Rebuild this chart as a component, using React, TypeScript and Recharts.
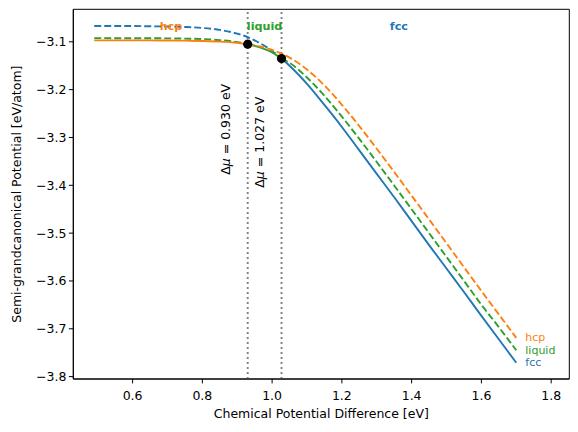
import React from 'react';
import { ComposedChart, Line, XAxis, YAxis, ReferenceLine, ReferenceDot, ReferenceArea } from 'recharts';

const FONT = '"DejaVu Sans", sans-serif';
const BLUE = '#1f77b4';
const ORANGE = '#ff7f0e';
const GREEN = '#2ca02c';

// chemical potential difference [eV]
const muValues = [
  0.49, 0.55, 0.6, 0.65, 0.7, 0.75, 0.8, 0.85, 0.9, 0.93, 0.95, 1.0, 1.027, 1.05,
  1.1, 1.15, 1.2, 1.25, 1.3, 1.35, 1.4, 1.45, 1.5, 1.55, 1.6, 1.65, 1.7,
];
// semi-grandcanonical potential [eV/atom]
const fccValues = [
  -3.067, -3.067, -3.067, -3.0675, -3.068, -3.069, -3.071, -3.075, -3.083, -3.09, -3.097, -3.119, -3.135, -3.15,
  -3.188, -3.232, -3.278, -3.327, -3.376, -3.425, -3.475, -3.525, -3.574, -3.623, -3.673, -3.722, -3.771,
];
const hcpValues = [
  -3.097, -3.097, -3.097, -3.097, -3.0973, -3.0976, -3.0983, -3.0996, -3.1022, -3.105, -3.1073, -3.1168, -3.1246, -3.133,
  -3.1579, -3.1913, -3.2316, -3.2763, -3.3236, -3.3722, -3.4217, -3.4713, -3.5211, -3.5711, -3.621, -3.67, -3.719,
];
const liquidValues = [
  -3.0923, -3.0924, -3.0924, -3.0925, -3.0928, -3.0933, -3.0943, -3.0964, -3.1006, -3.105, -3.1084, -3.1221, -3.135, -3.1439,
  -3.1746, -3.2129, -3.2564, -3.303, -3.3513, -3.4005, -3.4501, -3.4999, -3.5498, -3.5997, -3.6497, -3.6965, -3.745,
];

const transitionMu = [0.93, 1.027];
const transitionPhi = [-3.105, -3.135];
const transitionText = ['0.930', '1.027'];
const transitionLabelPhi = [-3.378, -3.405];

const phaseNames = ['hcp', 'liquid', 'fcc'];
const phaseColors = [ORANGE, GREEN, BLUE];
const phaseLabelMu = [0.71, 0.9785, 1.3635];
const phaseLabelPhi = -3.069;

const xTicks = [0.6, 0.8, 1.0, 1.2, 1.4, 1.6, 1.8];
const yTicks = [-3.8, -3.7, -3.6, -3.5, -3.4, -3.3, -3.2, -3.1];
const xDomain = [0.43, 1.852];
const yDomain = [-3.805, -3.032];

const [tLow, tHigh] = transitionMu;
const rows = muValues.map((mu, i) => ({
  mu,
  fccDash: mu <= tHigh ? fccValues[i] : null,
  fccSolid: mu >= tHigh ? fccValues[i] : null,
  hcpSolid: mu <= tLow ? hcpValues[i] : null,
  hcpDash: mu >= tLow ? hcpValues[i] : null,
  liqDashLow: mu <= tLow ? liquidValues[i] : null,
  liqSolid: mu >= tLow && mu <= tHigh ? liquidValues[i] : null,
  liqDashHigh: mu >= tHigh ? liquidValues[i] : null,
}));

const last = muValues.length - 1;
const endLabels = [
  { name: 'hcp', color: ORANGE, phi: hcpValues[last] },
  { name: 'liquid', color: GREEN, phi: liquidValues[last] },
  { name: 'fcc', color: BLUE, phi: fccValues[last] },
];

const minus = (v: number) => v.toFixed(1).replace('-', '\u2212');

export default function App() {
  const lw = 1.9;
  const dash = '7 3';
  return (
    <div style={{ width: 578, height: 432 }}>
      <style>{'body{margin:0}'}</style>
      <ComposedChart width={578} height={432} data={rows} margin={{ top: 9.3, right: 8.7, bottom: 0, left: 0 }}>
        <XAxis
          dataKey="mu"
          type="number"
          domain={xDomain}
          ticks={xTicks}
          allowDataOverflow
          tickFormatter={(v: number) => v.toFixed(1)}
          tick={{ fill: '#000', fontSize: 12.5, fontFamily: FONT }}
          tickLine={{ stroke: '#000' }}
          axisLine={{ stroke: '#000' }}
          tickSize={4.4}
          tickMargin={7.5}
          height={53}
          label={{ value: 'Chemical Potential Difference [eV]', position: 'insideBottom', offset: 14, fill: '#000', fontSize: 12.5, fontFamily: FONT }}
        />
        <YAxis
          type="number"
          domain={yDomain}
          ticks={yTicks}
          allowDataOverflow
          tickFormatter={minus}
          tick={{ fill: '#000', fontSize: 12.5, fontFamily: FONT }}
          tickLine={{ stroke: '#000' }}
          axisLine={{ stroke: '#000' }}
          tickSize={4.4}
          tickMargin={2.5}
          width={73.3}
          label={{ value: 'Semi-grandcanonical Potential [eV/atom]', angle: -90, position: 'insideLeft', offset: 16.6, fill: '#000', fontSize: 12.5, fontFamily: FONT, style: { textAnchor: 'middle' } }}
        />
        <ReferenceArea x1={xDomain[0]} x2={xDomain[1]} y1={yDomain[0]} y2={yDomain[1]} fill="none" stroke="#000" strokeWidth={1} />
        {transitionMu.map((mu) => (
          <ReferenceLine key={`v${mu}`} x={mu} stroke="#808080" strokeWidth={1.9} strokeDasharray="1.9 3.1" />
        ))}

        <Line dataKey="fccDash" type="monotone" stroke={BLUE} strokeWidth={lw} strokeDasharray={dash} dot={false} isAnimationActive={false} />
        <Line dataKey="fccSolid" type="monotone" stroke={BLUE} strokeWidth={lw} dot={false} isAnimationActive={false} />
        <Line dataKey="liqDashLow" type="monotone" stroke={GREEN} strokeWidth={lw} strokeDasharray={dash} dot={false} isAnimationActive={false} />
        <Line dataKey="liqSolid" type="monotone" stroke={GREEN} strokeWidth={lw} dot={false} isAnimationActive={false} />
        <Line dataKey="liqDashHigh" type="monotone" stroke={GREEN} strokeWidth={lw} strokeDasharray={dash} dot={false} isAnimationActive={false} />
        <Line dataKey="hcpSolid" type="monotone" stroke={ORANGE} strokeWidth={lw} dot={false} isAnimationActive={false} />
        <Line dataKey="hcpDash" type="monotone" stroke={ORANGE} strokeWidth={lw} strokeDasharray={dash} dot={false} isAnimationActive={false} />

        {transitionMu.map((mu, i) => (
          <ReferenceDot key={`d${mu}`} x={mu} y={transitionPhi[i]} r={4.6} fill="#000" stroke="none" />
        ))}
        {transitionMu.map((mu, i) => (
          <ReferenceDot
            key={`t${mu}`}
            x={mu}
            y={transitionLabelPhi[i]}
            r={1}
            shape={(p: any) => {
              const x = p.cx - 22.5;
              const y = p.cy;
              return (
                <text x={x} y={y} transform={`rotate(-90 ${x} ${y})`} textAnchor="start" dominantBaseline="central" fill="#000" fontSize={12.5} fontFamily={FONT}>
                  <tspan>Δ</tspan>
                  <tspan fontStyle="italic">μ</tspan>
                  <tspan>{` = ${transitionText[i]} eV`}</tspan>
                </text>
              );
            }}
          />
        ))}
        {phaseNames.map((name, i) => (
          <ReferenceDot
            key={`p${name}`}
            x={phaseLabelMu[i]}
            y={phaseLabelPhi}
            r={1}
            shape={(p: any) => (
              <text x={p.cx} y={p.cy} textAnchor="middle" dominantBaseline="central" fill={phaseColors[i]} fontSize={11.2} fontWeight="bold" fontFamily={FONT}>
                {name}
              </text>
            )}
          />
        ))}
        {endLabels.map((e) => (
          <ReferenceDot
            key={`e${e.name}`}
            x={muValues[last]}
            y={e.phi}
            r={1}
            shape={(p: any) => (
              <text x={p.cx + 9} y={p.cy} textAnchor="start" dominantBaseline="central" fill={e.color} fontSize={11} fontFamily={FONT}>
                {e.name}
              </text>
            )}
          />
        ))}
      </ComposedChart>
    </div>
  );
}
